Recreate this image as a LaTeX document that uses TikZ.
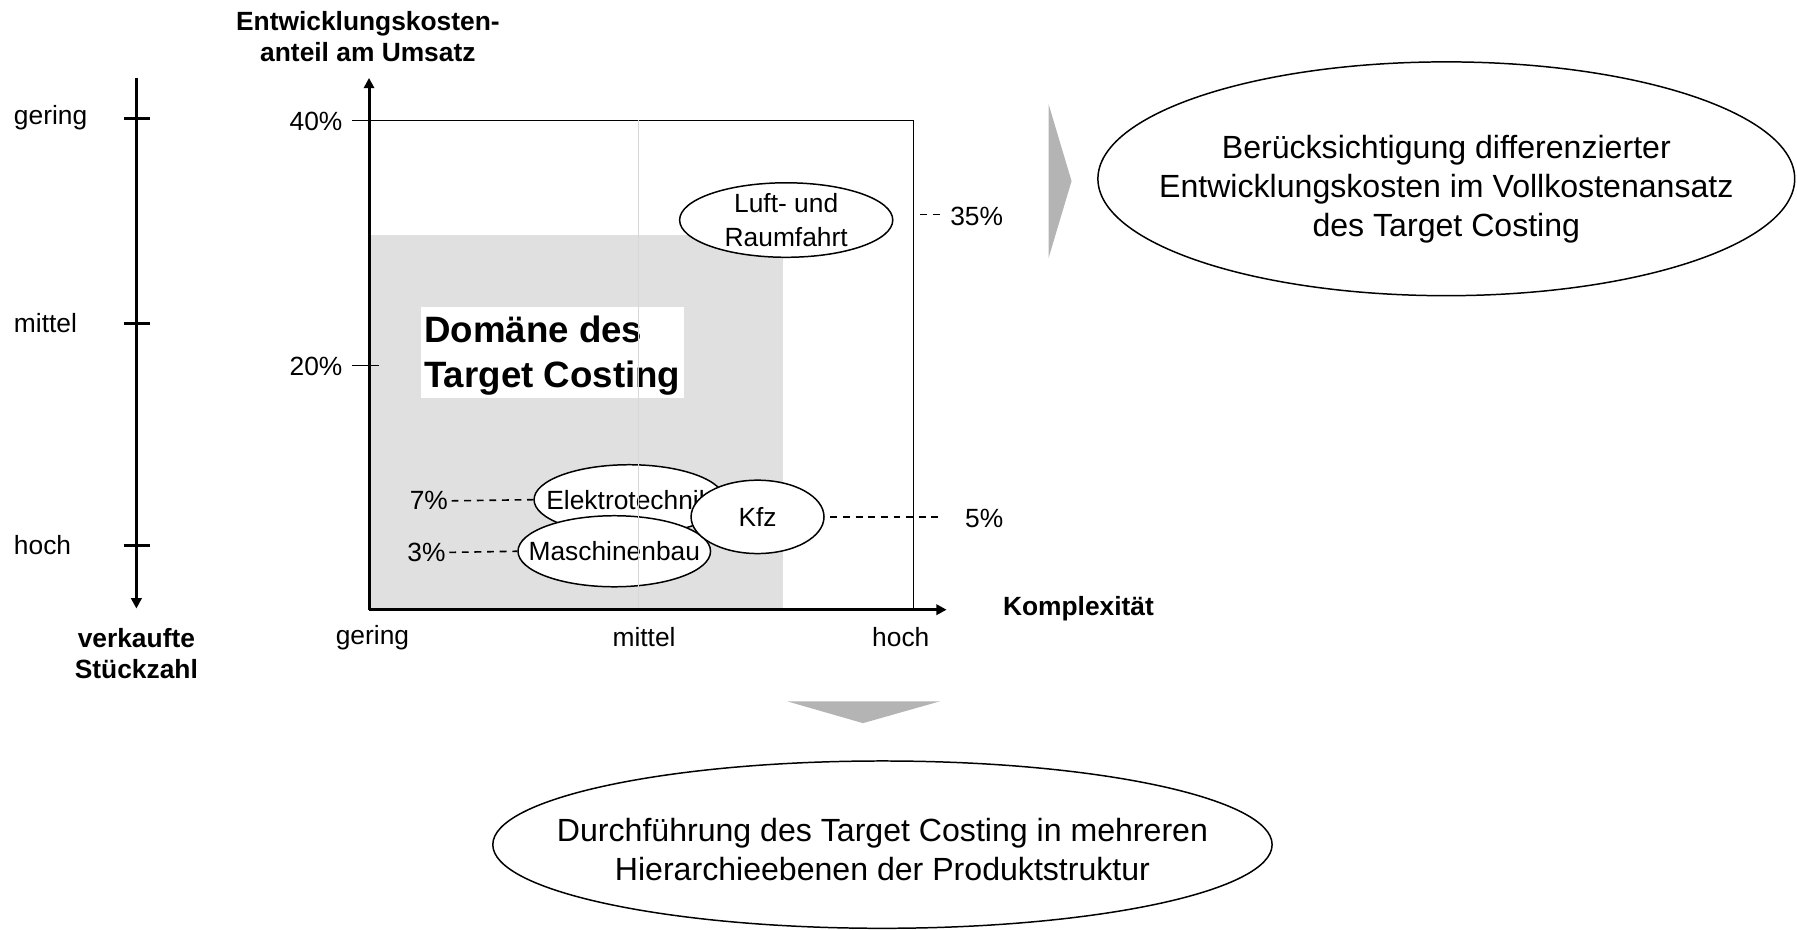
\documentclass[tikz,border=0pt]{standalone}
\usepackage{fontspec}
\setmainfont{Liberation Sans}
\usetikzlibrary{shapes.geometric,arrows.meta}

\definecolor{domgray}{RGB}{224,224,224}
\definecolor{gridgray}{RGB}{216,216,216}
\definecolor{pointer}{RGB}{180,180,180}

\begin{document}
\begin{tikzpicture}[x=1pt,y=-1pt,
  small/.style={font=\fontsize{23}{28}\selectfont, inner sep=0pt},
  smallbold/.style={font=\fontsize{23}{27}\selectfont\bfseries, inner sep=0pt, align=center},
  big/.style={font=\fontsize{28}{34}\selectfont, align=center, inner sep=0pt},
  axis/.style={line width=2.6pt, -{Triangle[length=9pt,width=9pt]}},
  tick/.style={line width=2.6pt},
  thin/.style={line width=1.2pt},
  bubble/.style={ellipse, draw, fill=white, line width=1.3pt, inner sep=0pt},
  leader/.style={line width=1.4pt, dash pattern=on 6pt off 5pt},
  pointerarrow/.style={fill=pointer}
]
\useasboundingbox (0,0) rectangle (1568,811);

% --- left scale: sold quantity ---
\coordinate (Ltop) at (119,68);
\coordinate (Lbot) at (119,531);
\draw[axis] (Ltop) -- (Lbot);
\foreach \yy in {103,282,476} \draw[tick] (108,\yy) -- (131,\yy);
\node[small, anchor=west] (lgering) at (12,103) {gering};
\node[small, anchor=west] (lmittel) at (12,282) {mittel};
\node[small, anchor=west] (lhoch)   at (12,476) {hoch};
\node[smallbold] (lstk) at (119,570) {verkaufte\\Stückzahl};

% --- diagram area ---
\fill[domgray] (322,205) rectangle (683,532);
\draw[thin] (322,105) -- (797,105) -- (797,532);
\draw[thin] (307,105) -- (331,105);
\draw[thin] (307,319) -- (331,319);

\node[fill=white, inner sep=0pt, minimum width=230pt, minimum height=79pt, anchor=north west] (dombox) at (367,268) {};
\node[font=\fontsize{32}{39}\selectfont\bfseries, align=left, inner sep=0pt, anchor=west] (domtext) at (370,310) {Domäne des\\Target Costing};

% --- industries ---
\node[bubble, minimum width=186pt, minimum height=65pt] (luft) at (686,192) {};
\node[small, align=center, font=\fontsize{23}{29}\selectfont] (lufttext) at (686,192) {Luft- und\\Raumfahrt};

\node[bubble, minimum width=166pt, minimum height=61pt] (elektro) at (549,436) {};
\node[small] (elektrotext) at (549,436) {Elektrotechnik};

\node[bubble, minimum width=168pt, minimum height=62pt] (masch) at (536,481) {};
\node[small] (maschtext) at (536,481) {Maschinenbau};

\node[bubble, minimum width=116pt, minimum height=64pt] (kfz) at (661,451) {};
\node[small] (kfztext) at (661,451) {Kfz};

% grid line at medium complexity
\draw[gridgray, line width=1.3pt] (557,105) -- (557,532);

% --- axes ---
\draw[axis] (322,532) -- (322,68);
\draw[axis] (322,532) -- (826,532);

\node[smallbold] (ytitle) at (321,32) {Entwicklungskosten-\\anteil am Umsatz};
\node[small, anchor=east] (p40) at (299,106) {40\%};
\node[small, anchor=east] (p20) at (299,320) {20\%};
\node[small] (xgering) at (325,556) {gering};
\node[small] (xmittel) at (562,556) {mittel};
\node[small] (xhoch)   at (786,556) {hoch};
\node[smallbold, anchor=west] (xtitle) at (875,531) {Komplexität};

% --- percentage leaders ---
\node[small, anchor=east] (p7) at (391,437) {7\%};
\node[small, anchor=east] (p3) at (389,482) {3\%};
\node[small, anchor=west] (p5) at (842,452) {5\%};
\node[small, anchor=west] (p35) at (829,189) {35\%};
\coordinate (c35) at (803,187);
\coordinate (c5) at (820,451);
\draw[leader] ([xshift=3pt]p7.east) -- (elektro.west);
\draw[leader] ([xshift=3pt]p3.east) -- (masch.west);
\draw[leader] ([xshift=5pt]kfz.east) -- (c5);
\draw[leader] (c35) -- ([xshift=-5pt]p35.west |- c35);

% --- conclusions ---
\fill[pointerarrow] (915,91) -- (935,158) -- (915,225) -- cycle;
\node[bubble, minimum width=608pt, minimum height=204pt] (vollk) at (1262,156) {};
\node[big] (vollktext) at (1262,165) {Berücksichtigung differenzierter\\Entwicklungskosten im Vollkostenansatz\\des Target Costing};

\fill[pointerarrow] (687,612) -- (820,612) -- (753,631) -- cycle;
\node[bubble, minimum width=680pt, minimum height=146pt] (hier) at (770,737) {};
\node[big] (hiertext) at (770,741) {Durchführung des Target Costing in mehreren\\Hierarchieebenen der Produktstruktur};
\end{tikzpicture}
\end{document}
